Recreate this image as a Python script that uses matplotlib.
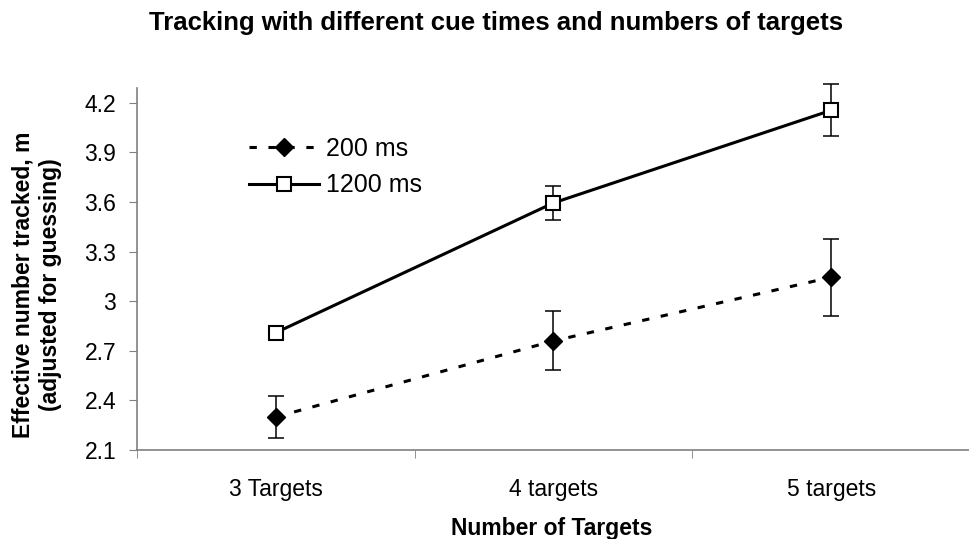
import numpy as np
import matplotlib.pyplot as plt

plt.rcParams['font.family'] = ['Liberation Sans', 'DejaVu Sans']

categories = ["3 Targets", "4 targets", "5 targets"]
cue_200 = [2.30, 2.76, 3.145]
err_200 = [0.125, 0.178, 0.232]
cue_1200 = [2.81, 3.595, 4.155]
err_1200 = [0.02, 0.103, 0.157]
yticks = [2.1, 2.4, 2.7, 3.0, 3.3, 3.6, 3.9, 4.2]
yticklabels = ["2.1", "2.4", "2.7", "3", "3.3", "3.6", "3.9", "4.2"]

fig = plt.figure(figsize=(9.7, 5.39), dpi=100)
ax = fig.add_axes([137/970, (539-450)/539, 833/970, (450-88)/539])

x = np.arange(len(categories))

# error bars first, markers drawn over them
for vals, errs in [(cue_200, err_200), (cue_1200, err_1200)]:
    eb = ax.errorbar(x, vals, yerr=errs, fmt='none', ecolor='black',
                     elinewidth=1.1, capsize=6, capthick=1.1, zorder=2)
    for art in eb.lines[1] + eb.lines[2]:
        art.set_clip_on(False)

ax.plot(x, cue_200, linestyle=(0, (2.4, 3.8)), linewidth=2.2, color='black',
        marker='D', markersize=9, markerfacecolor='black', markeredgecolor='black',
        label='200 ms', zorder=3)
ax.plot(x, cue_1200, linestyle='-', linewidth=2.2, color='black',
        marker='s', markersize=10.5, markerfacecolor='white', markeredgecolor='black',
        markeredgewidth=1.5, label='1200 ms', zorder=3)

ax.set_xlim(-0.5, 2.49)
ax.set_ylim(2.1, 4.29)
ax.set_yticks(yticks)
ax.set_yticklabels(yticklabels, fontsize=16.5)
ax.set_xticks(x)
ax.set_xticklabels(categories, fontsize=16.5)
ax.set_xticks([-0.5, 0.5, 1.5, 2.5], minor=True)
ax.tick_params(axis='x', which='major', length=0, pad=20)
ax.tick_params(axis='x', which='minor', length=6, direction='out', color='#808080')
ax.tick_params(axis='y', length=6, direction='out', color='#808080', pad=9)

for side in ['top', 'right']:
    ax.spines[side].set_visible(False)
for side in ['left', 'bottom']:
    ax.spines[side].set_color('#808080')
    ax.spines[side].set_linewidth(1.2)

leg = ax.legend(loc='upper left', bbox_to_anchor=(249/970, 1-137/539),
                bbox_transform=fig.transFigure, frameon=False, fontsize=18,
                handlelength=2.8, handletextpad=0.3, labelspacing=0.5,
                numpoints=1, borderpad=0, borderaxespad=0)

fig.text(496/970, 1-23/539, "Tracking with different cue times and numbers of targets",
         ha='center', va='center', fontsize=18.5, fontweight='bold')
fig.text(37/970, 1-285/539, "Effective number tracked, m\n(adjusted for guessing)",
         ha='center', va='center', rotation=90, fontsize=16.5, fontweight='bold',
         multialignment='center', linespacing=1.25)
fig.text(552/970, 1-529/539, "Number of Targets",
         ha='center', va='center', fontsize=16.5, fontweight='bold')

fig.savefig('out.png', dpi=100)
